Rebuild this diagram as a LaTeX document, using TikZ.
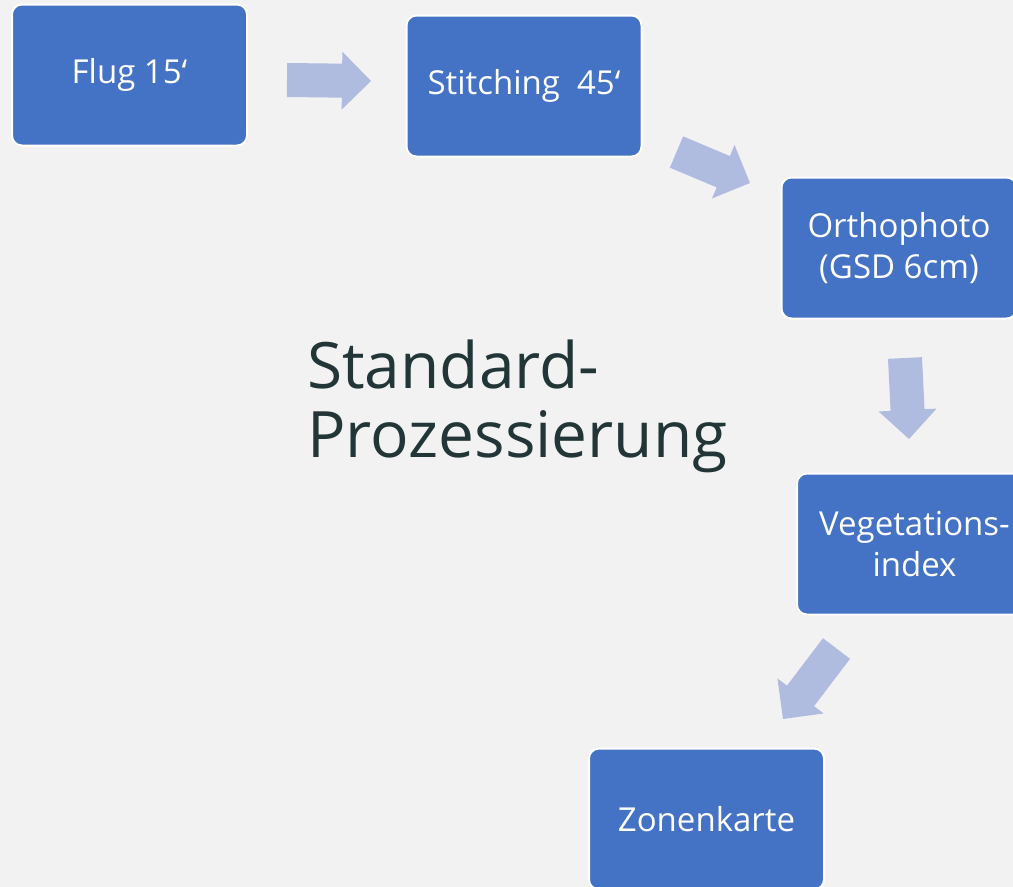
\documentclass[tikz,border=0pt]{standalone}
\usepackage{fontspec}
\setmainfont{Open Sans}
\usetikzlibrary{calc}
\definecolor{bg}{HTML}{F2F2F2}
\definecolor{boxblue}{HTML}{4472C4}
\definecolor{arrowblue}{HTML}{AFBCDF}
\definecolor{titlecol}{HTML}{223637}
\tikzset{
  stepbox/.style={rectangle, rounded corners=10pt, fill=boxblue, draw=white, line width=2pt,
    minimum width=235pt, minimum height=141pt, text=white, align=center,
    font=\fontsize{33}{41}\selectfont, inner sep=0pt},
  fatarrow/.style={fill=arrowblue, draw=none}
}
\newcommand\fatarrow[2]{%
  \path[fatarrow] ($(#1)!17pt!90:(#2)$)
    -- ($($(#2)!29pt!(#1)$)!17pt!90:(#2)$)
    -- ($($(#2)!29pt!(#1)$)!29pt!90:(#2)$)
    -- (#2)
    -- ($($(#2)!29pt!(#1)$)!29pt!-90:(#2)$)
    -- ($($(#2)!29pt!(#1)$)!17pt!-90:(#2)$)
    -- ($(#1)!17pt!-90:(#2)$) -- cycle;}
\begin{document}
\begin{tikzpicture}[x=1pt,y=-1pt]
\fill[bg] (0,0) rectangle (1013,887);
\useasboundingbox (0,0) rectangle (1013,887);
\node[stepbox] (flug) at (129.5,75) {Flug 15‘};
\node[stepbox] (stitch) at (524,86) {Stitching~~45‘};
\node[stepbox] (ortho) at (899,248) {Orthophoto\\(GSD 6cm)};
\node[stepbox] (veg) at (914.5,544) {Vegetations-\\index};
\node[stepbox] (zonen) at (706.5,819) {Zonenkarte};
\node[anchor=base west, align=left, text=titlecol, inner sep=0pt,
  font=\fontsize{64}{69}\selectfont] (title) at (307,457) {Standard-\\Prozessierung};
\coordinate (a1s) at (287,80);
\coordinate (a1t) at (371,81);
\coordinate (a2s) at (676.5,152);
\coordinate (a2t) at (750,183);
\coordinate (a3s) at (905,358);
\coordinate (a3t) at (909,439);
\coordinate (a4s) at (836.5,648.5);
\coordinate (a4t) at (783,719);
\fatarrow{a1s}{a1t}
\fatarrow{a2s}{a2t}
\fatarrow{a3s}{a3t}
\fatarrow{a4s}{a4t}
\end{tikzpicture}
\end{document}
